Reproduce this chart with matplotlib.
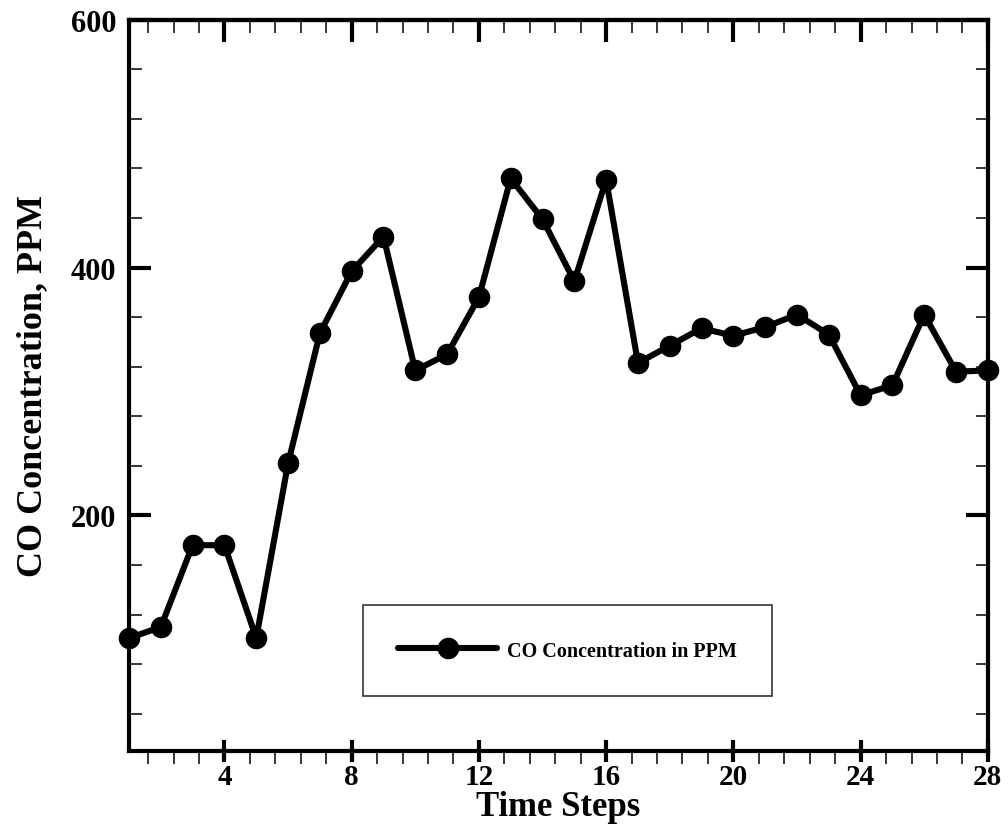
import matplotlib
matplotlib.use("Agg")
import matplotlib.pyplot as plt
from matplotlib.ticker import MultipleLocator

time_steps = list(range(1, 29))
co_ppm = [101, 110, 176, 176, 101, 242, 347, 397, 425, 317,
          330, 376, 472, 439, 389, 471, 323, 337, 351, 345,
          352, 362, 346, 297, 305, 362, 316, 317]

plt.rcParams["font.family"] = ["Liberation Serif", "DejaVu Serif"]
plt.rcParams["font.weight"] = "bold"

fig = plt.figure(figsize=(10.08, 8.29), dpi=100)
ax = fig.add_axes([0.128, 0.093, 0.852, 0.882])

ax.plot(time_steps, co_ppm, color="black", lw=4.4, marker="o", ms=14.5,
        solid_capstyle="round", label="CO Concentration in PPM",
        clip_on=False, zorder=3)

ax.set_xlim(1, 28)
ax.set_ylim(10, 600)
ax.xaxis.set_major_locator(MultipleLocator(4))
ax.xaxis.set_minor_locator(MultipleLocator(0.8))
ax.yaxis.set_major_locator(MultipleLocator(200))
ax.yaxis.set_minor_locator(MultipleLocator(40))

for s in ax.spines.values():
    s.set_linewidth(3)

# y axis: ticks inward on both sides
ax.tick_params(axis="y", which="both", right=True, direction="in",
               labelsize=22, pad=9)
ax.tick_params(axis="y", which="major", length=16, width=3)
ax.tick_params(axis="y", which="minor", length=9, width=1.1)
# bottom axis: major ticks cross the line, minor hang below
ax.tick_params(axis="x", which="major", direction="inout", length=16,
               width=3, labelsize=21, pad=1)
ax.tick_params(axis="x", which="minor", direction="out", length=9, width=1.1)
# top axis: ticks inward, no labels
top = ax.secondary_xaxis("top")
top.xaxis.set_major_locator(MultipleLocator(4))
top.xaxis.set_minor_locator(MultipleLocator(0.8))
top.tick_params(which="both", direction="in", labeltop=False)
top.tick_params(which="major", length=16, width=3)
top.tick_params(which="minor", length=9, width=1.1)
top.spines["top"].set_linewidth(3)

ax.set_xlabel("Time Steps", fontsize=25, fontweight="bold", labelpad=0)
ax.set_ylabel("CO Concentration, PPM", fontsize=26, fontweight="bold", labelpad=16)

leg = ax.legend(loc="center", bbox_to_anchor=(0.5106, 0.1373),
                prop={"weight": "bold", "size": 14.5}, fancybox=False,
                framealpha=1, edgecolor="#333333", borderpad=1.75,
                handlelength=4.9, handletextpad=0.5)
leg.get_frame().set_linewidth(1.2)

fig.savefig("out.png", dpi=100)
